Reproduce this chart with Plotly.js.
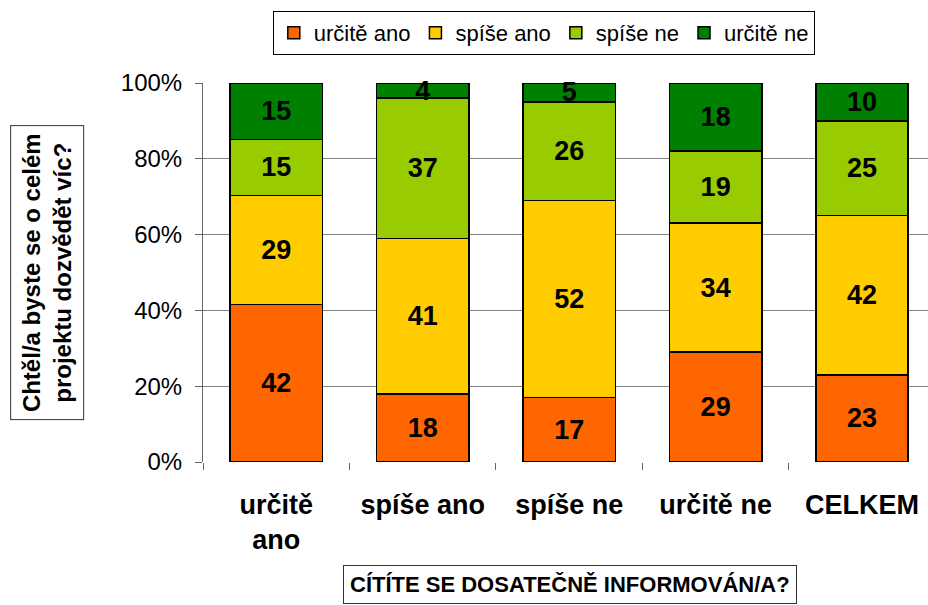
<!DOCTYPE html>
<html><head><meta charset="utf-8">
<script src="https://cdn.plot.ly/plotly-3.0.1.min.js"></script>
<style>html,body{margin:0;padding:0;background:#fff}#chart{width:928px;height:605px}</style>
</head><body><div id="chart"></div>
<script>
const categories = ["určitě<br>ano", "spíše ano", "spíše ne", "určitě ne", "CELKEM"];
const seriesNames = ["určitě ano", "spíše ano", "spíše ne", "určitě ne"];
const urciteAno = [42, 18, 17, 29, 23];
const spiseAno = [29, 41, 52, 34, 42];
const spiseNe = [15, 37, 26, 19, 25];
const urciteNe = [15, 4, 5, 18, 10];
const colors = ["#FF6600", "#FFCC00", "#99CC00", "#008000"];
const yTickVals = [0, 20, 40, 60, 80, 100];
const yTickText = ["0%", "20%", "40%", "60%", "80%", "100%"];

const series = [urciteAno, spiseAno, spiseNe, urciteNe];
const traces = series.map((vals, i) => ({
  type: 'bar',
  name: seriesNames[i],
  x: categories,
  y: vals,
  text: vals.map(String),
  textposition: 'inside',
  insidetextanchor: 'middle',
  textangle: 0,
  textfont: {family: 'Liberation Sans, Arial, sans-serif', size: 27, color: '#000', weight: 'bold'},
  marker: {color: colors[i], line: {color: '#000', width: 1.5}},
  cliponaxis: false,
  hoverinfo: 'skip'
}));

const layout = {
  width: 928, height: 605,
  margin: {l: 203, r: 0, t: 83, b: 143},
  paper_bgcolor: '#fff', plot_bgcolor: '#fff',
  barmode: 'stack',
  barnorm: 'percent',
  bargap: 0.37,
  uniformtext: {mode: 'show', minsize: 27},
  font: {family: 'Liberation Sans, Arial, sans-serif', color: '#000'},
  showlegend: true,
  legend: {
    orientation: 'h', xref: 'container', yref: 'container',
    x: 0.586, xanchor: 'center', y: 0.982, yanchor: 'top',
    bordercolor: '#000', borderwidth: 1, bgcolor: '#fff',
    font: {size: 22, color: '#000'}, traceorder: 'normal',
    itemwidth: 30, tracegroupgap: 0
  },
  xaxis: {
    type: 'category', range: [-0.5, 4.45],
    showline: false, zeroline: false, showgrid: false,
    ticks: 'outside', tickson: 'boundaries', ticklen: 7, tickcolor: '#666',
    ticklabelstandoff: 24,
    tickfont: {size: 27, weight: 'bold', color: '#000'}
  },
  yaxis: {
    range: [0, 100], tickvals: yTickVals, ticktext: yTickText,
    showline: true, linecolor: '#666', linewidth: 1,
    ticks: 'outside', ticklen: 7, tickcolor: '#666',
    ticklabelstandoff: 8,
    showgrid: true, gridcolor: '#808080', gridwidth: 1, zeroline: false,
    tickfont: {size: 24, color: '#000'}
  },
  annotations: [
    {
      xref: 'paper', yref: 'paper', x: -0.215, y: 0.4987,
      xanchor: 'center', yanchor: 'middle',
      text: 'Chtěl/a byste se o celém<br>projektu dozvědět víc?',
      textangle: -90, showarrow: false,
      font: {size: 24, weight: 'bold', color: '#000'},
      bordercolor: '#333', borderwidth: 1, borderpad: 7, bgcolor: '#fff'
    },
    {
      xref: 'paper', yref: 'paper', x: 0.506, y: -0.322,
      xanchor: 'center', yanchor: 'middle',
      text: 'CÍTÍTE SE DOSATEČNĚ INFORMOVÁN/A?',
      showarrow: false,
      font: {family: 'Liberation Sans, Arial, sans-serif', size: 22, weight: 'bold', color: '#000'},
      bordercolor: '#333', borderwidth: 1, borderpad: 6, bgcolor: '#fff'
    }
  ]
};

Plotly.newPlot('chart', traces, layout, {displayModeBar: false, staticPlot: true});
</script>
</body></html>
